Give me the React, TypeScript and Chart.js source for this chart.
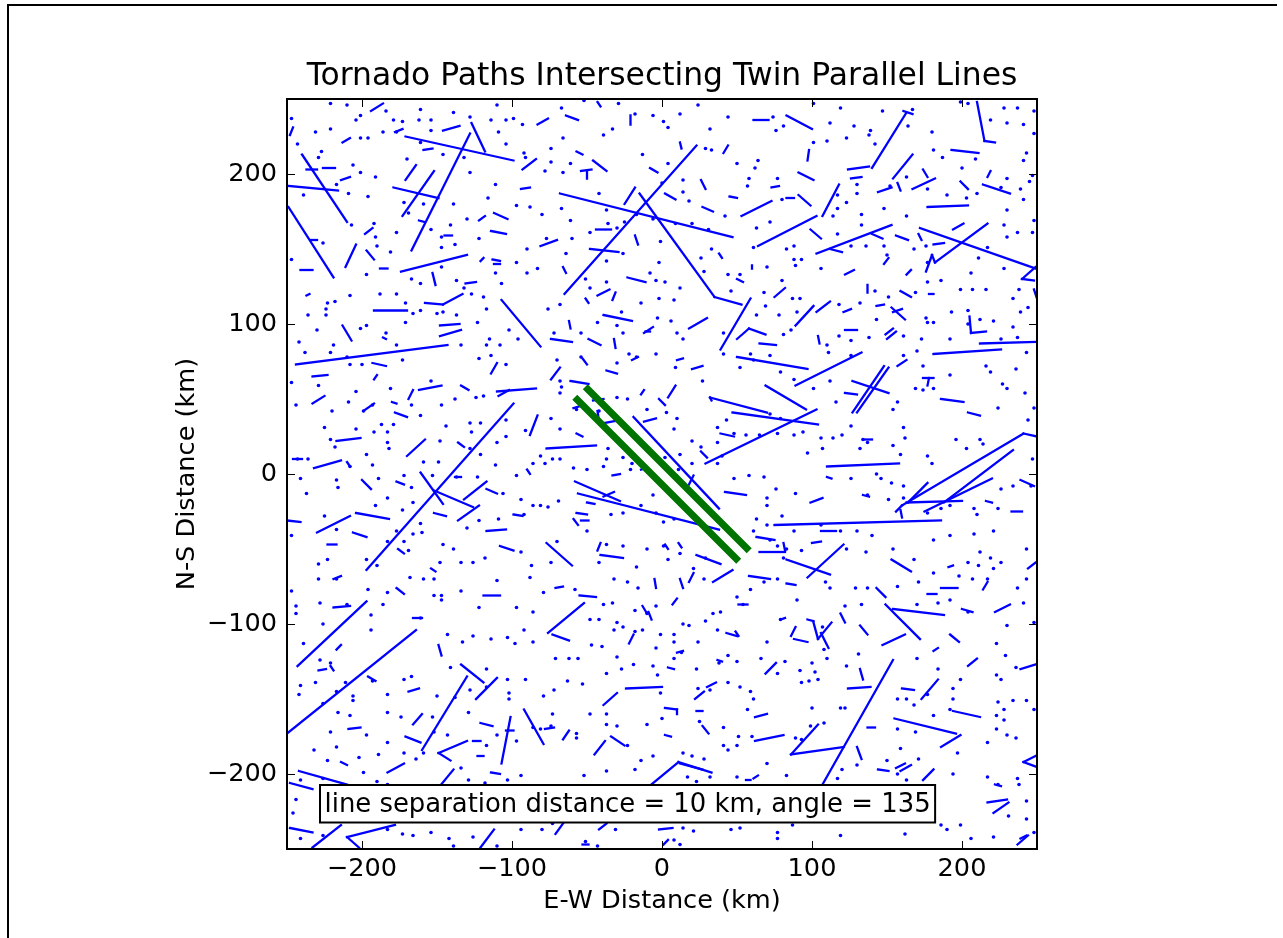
import React, { useEffect, useRef } from "react";
import { Chart, registerables } from "chart.js";
Chart.register(...registerables);

const TITLE = "Tornado Paths Intersecting Twin Parallel Lines";
const X_LABEL = "E-W Distance (km)";
const Y_LABEL = "N-S Distance (km)";
const ANNOTATION = "line separation distance = 10 km, angle = 135";
const ANNOTATION_AT = [-225, -225];
const X_TICKS = [-200, -100, 0, 100, 200];
const Y_TICKS = [-200, -100, 0, 100, 200];
const AXIS_MIN = -250;
const AXIS_MAX = 250;

// twin parallel lines [x1, y1, x2, y2] in km
const twinLines = [
  [-49.5, 56.5, 56.5, -49.5],
  [-56.5, 49.5, 49.5, -56.5],
];

// tornado path segments [x1, y1, x2, y2] in km, grouped by region
const pathsNW = [
  [-171,225,-99,209],[-128,227,-167,149],[-127,234,-118,215],[-240,213,-210,168],[-249,192,-216,189],
  [-249,178,-219,131],[-179,191,-149,184],[-152,202,-173,172],[-164,206,-171,196],[-174,135,-130,146],
  [-153,134,-151,126],[-204,153,-211,138],[-197,149,-192,143],[-192,109,-170,109],[-158,114,-146,113],
  [-146,113,-133,120],[-148,99,-135,100],[-148,92,-134,96],[-107,116,-81,85],[-213,99,-207,89],
  [-84,210,-93,203],[-146,229,-135,232],[-194,242,-186,247],[-248,226,-246,231],[-213,221,-208,224],
  [-112,174,-103,170],[-114,162,-104,160],[-122,169,-118,172],[-226,204,-218,204],[-237,203,-230,203],
  [-214,196,-208,198],[-198,160,-193,164],[-162,169,-158,168],[-145,159,-140,159],[-131,127,-124,128],
  [-113,143,-108,142],[-112,140,-108,140],[-121,142,-119,144],[-94,190,-88,191],[-241,136,-233,136],
  [-188,137,-183,137],[-234,156,-230,156],[-237,119,-235,120],[-186,91,-184,90],[-178,228,-173,230],
  [-159,216,-153,217],
];
const pathsN = [
  [23,219,-65,120],[-68,187,47,158],[-15,187,35,118],[35,118,53,113],[59,117,39,83],[-25,180,-18,191],
  [2,187,9,183],[-46,209,-37,202],[-54,202,-47,203],[-50,202,-50,197],[-81,152,-70,156],[-48,150,-29,148],
  [-44,163,-34,163],[-23,131,-11,128],[-43,119,-35,123],[-33,116,-31,121],[-39,106,-20,102],[-49,90,-41,86],
  [-74,90,-60,88],[-12,94,-6,98],[-11,95,-8,95],[18,97,30,104],[50,90,58,97],[58,97,69,93],[53,172,73,182],
  [64,152,103,172],[26,196,29,190],[27,178,34,175],[45,185,50,184],[50,130,54,128],[75,118,82,124],
  [-8,204,-3,201],[12,221,13,217],[41,214,44,219],[61,236,71,236],[-64,239,-56,236],[-83,233,-76,237],
  [-43,248,-41,245],[-21,239,-21,233],[-57,215,-53,213],[-18,159,-16,153],[73,191,78,192],[38,147,40,144],
  [60,139,60,137],[-66,138,-64,134],[-51,117,-49,114],[-62,102,-61,97],[-32,90,-31,84],[65,87,76,86],
];
const pathsNE = [
  [163,241,140,204],[167,213,154,197],[118,193,107,172],[103,147,153,166],[172,164,249,137],
  [217,167,182,141],[182,141,180,146],[180,146,176,135],[210,248,215,222],[215,222,222,221],
  [177,178,204,179],[167,190,182,197],[144,188,153,191],[214,193,232,187],[193,216,211,214],
  [83,239,100,230],[124,203,138,205],[126,197,133,198],[91,201,101,196],[91,186,99,179],
  [83,184,88,184],[98,216,97,209],[217,198,219,202],[199,195,204,190],[157,194,159,189],
  [174,203,177,198],[112,150,120,148],[140,160,147,157],[156,159,164,156],[171,160,173,156],
  [181,153,188,154],[99,163,106,157],[194,163,201,167],[122,133,128,136],[148,140,151,144],
  [163,133,166,136],[137,126,137,121],[159,122,166,118],[89,99,101,112],[103,108,112,115],
  [121,108,126,110],[143,112,148,113],[153,111,162,103],[154,108,160,110],[205,105,206,94],
  [206,94,216,95],[212,87,249,88],[122,96,130,96],[150,90,156,95],[149,93,154,97],
  [104,92,105,87],[178,120,181,120],[240,130,249,138],[240,130,248,129],[248,123,250,117],
  [161,242,167,240],
];
const pathsW = [
  [-244,73,-143,86],[-99,47,-197,-64],[-161,1,-146,-20],[-152,-11,-126,-22],[-117,-5,-132,-17],
  [-122,-21,-136,-31],[-110,55,-84,57],[-109,52,-102,56],[-162,56,-147,59],[-232,4,-214,9],
  [-217,22,-201,24],[-170,12,-158,23],[-230,-39,-208,-28],[-204,-26,-182,-30],[-206,-39,-197,-42],
  [-233,47,-225,52],[-233,65,-223,66],[-200,-4,-194,-10],[-178,41,-170,38],[-169,50,-166,56],
  [-193,74,-184,72],[-114,67,-110,74],[-134,59,-129,56],[-88,26,-83,39],[-117,-38,-104,-37],
  [-108,-48,-99,-51],[-136,21,-132,18],[-138,-2,-134,-2],[-117,-10,-110,-13],[-99,-27,-93,-28],
  [-250,-31,-241,-32],[-246,10,-240,10],[-223,-47,-217,-47],[-219,-70,-214,-68],[-177,-76,-172,-80],
  [-119,-81,-108,-81],[-210,8,-208,5],[-192,63,-190,66],[-199,42,-192,47],[-180,48,-177,47],
  [-177,-5,-172,-7],[-152,-26,-144,-28],[-176,-50,-172,-53],[-154,-63,-151,-65],[-90,3,-88,0],
];
const pathsC = [
  [-19,38,38,-23],[-58,-5,-28,-18],[-56,-13,38,-37],[-77,17,-44,19],[-77,-46,-60,-61],
  [-61,62,-49,60],[32,51,70,41],[32,51,33,49],[47,41,104,33],[29,7,103,43],[50,78,97,70],
  [69,59,96,43],[42,-12,56,-14],[23,-54,39,-60],[34,-72,47,-64],[63,-42,75,-44],[58,-68,72,-70],
  [65,-52,82,-52],[-74,63,-68,71],[-53,77,-50,73],[-37,69,-30,67],[-20,76,-16,78],[10,76,14,77],
  [20,70,27,72],[-12,35,-4,37],[-14,53,-12,56],[-2,50,2,46],[4,51,9,59],[-43,42,-42,35],
  [-38,34,-28,36],[-46,49,-39,50],[-59,44,-52,46],[-57,27,-53,25],[26,15,30,11],[39,27,48,25],
  [-57,-26,-50,-27],[-59,-30,-56,-34],[-54,-31,-49,-31],[-50,-19,-45,-20],[-39,-15,-32,-12],
  [-14,3,-10,4],[-33,-1,-28,0],[-43,-51,-41,-46],[-41,-54,-26,-56],[-71,-76,-66,-75],
  [11,-46,13,-49],[2,-47,4,-50],[-5,-70,-4,-76],[12,-70,14,-76],[18,-72,21,-66],[-55,-81,-44,-82],
  [10,-1,13,-5],[21,-1,18,-7],[81,-46,82,-51],
];
const pathsE = [
  [89,59,133,81],[148,72,127,41],[151,71,130,41],[127,62,151,54],[181,80,226,83],[186,50,201,48],
  [110,5,158,7],[75,-34,186,-31],[160,-21,241,27],[241,27,250,25],[163,-19,200,-18],[234,16,188,-19],
  [220,-3,175,-25],[177,-6,164,-19],[160,-21,156,-25],[159,-24,160,-29],[83,-57,112,-67],[97,-69,121,-47],
  [153,-57,166,-65],[99,-19,107,-16],[204,41,212,39],[157,72,163,76],[174,64,181,64],[178,64,177,59],
  [122,54,130,53],[239,-4,248,-8],[216,-18,220,-19],[233,-25,240,-25],[106,-38,116,-38],[100,-46,106,-45],
  [110,-2,113,-3],[134,-14,138,-15],[134,23,140,23],[186,-76,197,-76],[143,-76,149,-82],[177,-80,183,-80],
  [191,-62,194,-61],[83,-73,89,-74],[214,-77,217,-72],[249,-59,244,-63],
];
const pathsSW = [
  [-197,-85,-243,-128],[-164,-104,-250,-173],[-130,-135,-160,-184],[-134,-127,-119,-139],
  [-110,-136,-124,-150],[-130,-178,-149,-186],[-149,-186,-141,-191],[-101,-162,-107,-193],
  [-92,-157,-79,-180],[-171,-175,-161,-179],[-183,-199,-172,-193],[-148,-208,-139,-197],
  [-242,-198,-210,-207],[-248,-206,-233,-210],[-248,-236,-233,-239],[-233,-249,-214,-234],
  [-210,-242,-178,-234],[-210,-242,-202,-249],[-121,-249,-112,-237],[-169,-145,-162,-143],
  [-166,-167,-160,-160],[-121,-166,-113,-168],[-126,-178,-121,-178],[-114,-199,-108,-200],
  [-123,-188,-119,-188],[-209,-170,-201,-169],[-196,-135,-191,-138],[-219,-89,-208,-88],
  [-166,-96,-160,-96],[-214,-192,-210,-194],[-149,-114,-147,-121],[-104,-171,-99,-171],
  [-229,-131,-224,-130],[-217,-117,-214,-114],[-221,-128,-219,-131],
];
const pathsS = [
  [-52,-86,-76,-106],[-73,-107,-62,-111],[-24,-143,0,-142],[-39,-154,-30,-146],[-45,-187,-38,-178],
  [-34,-175,-25,-181],[-7,-207,11,-192],[11,-192,33,-199],[12,-193,27,-197],[2,-156,10,-157],
  [10,-157,10,-160],[22,-150,28,-145],[30,-142,36,-139],[43,-106,50,-108],[62,-162,70,-160],
  [62,-178,81,-174],[-22,-113,-19,-107],[-13,-88,-10,-93],[-9,-92,-7,-97],[7,-87,10,-83],
  [51,-87,57,-87],[69,-133,76,-126],[-66,-177,-62,-171],[-78,-170,-72,-169],[2,-174,6,-175],
  [23,-158,27,-158],[27,-168,31,-173],[37,-124,40,-125],[79,-97,82,-96],[49,-105,51,-108],
  [10,-119,14,-118],[4,-129,8,-130],[-2,-237,7,-236],[1,-247,4,-244],[-71,-240,-66,-233],
  [-42,-237,-37,-233],[-53,-247,-49,-247],[61,-203,64,-201],[56,-204,59,-204],
];
const pathsSE = [
  [149,-87,172,-110],[154,-90,188,-94],[154,-124,107,-207],[86,-187,121,-182],[86,-187,104,-167],
  [155,-163,196,-173],[194,-158,212,-162],[186,-182,199,-174],[173,-150,184,-137],[86,-108,89,-102],
  [88,-110,97,-112],[97,-97,101,-98],[101,-99,104,-110],[104,-110,113,-99],[106,-106,111,-116],
  [204,-128,210,-123],[222,-92,232,-87],[147,-114,162,-107],[124,-143,139,-142],[132,-130,134,-137],
  [217,-219,230,-217],[221,-226,231,-219],[132,-101,137,-107],[119,-93,122,-99],[192,-107,198,-112],
  [200,-90,207,-92],[174,-204,181,-197],[144,-197,151,-198],[156,-196,162,-193],[159,-198,166,-194],
  [160,-143,168,-144],[181,-118,184,-116],[130,-182,133,-190],[137,-169,142,-169],[239,-130,249,-127],
  [241,-192,249,-188],[241,-192,249,-195],[222,-207,226,-208],[239,-243,243,-241],[237,-247,244,-241],
];

// very short paths (dots) [x, y] in km
const dotsNW = [
  [-221,247],[-210,246],[-201,239],[-204,236],[-184,242],[-179,236],[-173,235],[-161,243],[-162,236],[-154,236],
  [-139,241],[-128,238],[-114,236],[-110,246],[-104,236],[-99,237],[-93,233],[-109,228],[-92,214],[-91,211],
  [-104,220],[-132,211],[-128,201],[-146,213],[-154,229],[-161,221],[-170,210],[-177,228],[-186,228],[-196,224],
  [-201,224],[-221,230],[-231,228],[-243,220],[-247,237],[-227,215],[-229,211],[-206,206],[-201,201],[-191,198],
  [-196,185],[-209,187],[-239,186],[-217,193],[-226,154],[-207,166],[-192,167],[-191,158],[-177,161],[-172,181],
  [-169,174],[-159,180],[-139,180],[-130,170],[-141,166],[-154,163],[-147,158],[-147,151],[-138,153],[-122,157],
  [-116,184],[-111,193],[-97,179],[-88,178],[-90,150],[-97,141],[-90,134],[-107,127],[-111,134],[-119,118],
  [-117,110],[-127,120],[-132,124],[-137,129],[-147,138],[-161,127],[-167,130],[-177,120],[-171,114],[-166,107],
  [-161,109],[-150,107],[-146,108],[-137,106],[-123,101],[-115,90],[-102,96],[-96,90],[-108,86],[-117,86],
  [-134,86],[-177,86],[-184,94],[-171,101],[-188,120],[-197,133],[-208,119],[-223,114],[-218,115],[-224,110],
  [-224,106],[-236,106],[-230,96],[-242,88],[-219,86],[-201,97],[-197,99],[-247,143],[-181,148],[-190,152],
];
const dotsN = [
  [-67,244],[-52,249],[-29,247],[-18,240],[-6,239],[1,235],[4,231],[12,240],[24,246],[32,230],[44,238],[74,238],
  [76,229],[81,232],[-33,230],[-39,226],[-66,224],[-74,217],[-74,208],[-78,202],[-66,201],[-61,207],[-42,187],
  [-37,176],[-30,164],[-13,213],[0,194],[4,207],[14,196],[14,188],[18,182],[29,217],[33,216],[50,207],[64,209],
  [62,204],[58,197],[57,192],[77,197],[80,183],[72,168],[63,164],[42,172],[31,163],[20,167],[9,167],[-6,170],
  [-17,173],[-25,168],[-36,167],[-48,161],[-60,157],[-61,169],[-67,177],[-80,173],[-77,157],[-83,137],[-64,147],
  [-51,130],[-48,124],[-37,128],[-37,142],[-26,147],[-8,134],[-4,129],[2,128],[-2,141],[-1,155],[28,135],[26,144],
  [33,150],[44,133],[46,122],[52,133],[68,121],[69,112],[80,129],[70,138],[61,151],[12,124],[8,116],[-2,117],
  [-14,114],[-27,108],[-76,110],[-68,113],[-43,101],[-30,99],[-3,104],[6,102],[10,94],[14,90],[41,94],[63,106],
  [78,106],[81,93],[-26,94],[-54,94],[-72,94],
];
const dotsNE = [
  [101,247],[119,244],[147,242],[167,243],[228,244],[237,244],[248,242],[204,247],[199,248],[112,234],[128,232],
  [139,229],[164,232],[180,228],[219,236],[230,234],[241,233],[248,227],[123,224],[110,222],[101,221],[138,226],
  [142,220],[181,216],[187,211],[209,210],[200,204],[243,214],[241,209],[230,197],[239,190],[247,199],[245,195],
  [226,191],[210,187],[203,184],[190,186],[177,190],[163,198],[152,192],[130,187],[117,186],[117,177],[130,193],
  [123,181],[133,173],[148,177],[163,172],[133,166],[114,172],[117,160],[88,152],[93,143],[88,143],[89,139],
  [83,150],[106,137],[126,152],[136,152],[148,152],[168,150],[150,146],[177,141],[186,129],[177,128],[176,152],
  [206,134],[199,123],[207,123],[216,123],[228,137],[238,123],[244,111],[239,108],[234,117],[230,158],[237,161],
  [217,151],[211,144],[228,166],[248,169],[247,161],[230,176],[241,183],[87,117],[92,117],[118,113],[142,122],
  [151,118],[132,114],[143,103],[169,121],[176,104],[181,101],[177,101],[193,108],[204,109],[204,100],[212,103],
  [221,102],[234,98],[237,91],[226,90],[192,90],[173,90],[161,92],[138,91],[126,89],[118,92],[110,86],[90,108],
  [86,96],
];
const dotsW = [
  [-238,81],[-221,81],[-210,78],[-208,73],[-200,73],[-173,76],[-122,77],[-114,79],[-104,73],[-247,61],[-229,59],
  [-204,55],[-181,57],[-154,62],[-138,50],[-124,51],[-119,52],[-244,46],[-209,48],[-199,42],[-193,46],[-167,46],
  [-161,39],[-147,46],[-220,42],[-225,31],[-204,30],[-192,28],[-183,28],[-187,33],[-179,33],[-144,32],[-128,34],
  [-127,28],[-121,34],[-104,36],[-91,29],[-221,23],[-218,18],[-197,13],[-183,21],[-182,17],[-148,22],[-128,17],
  [-121,13],[-110,21],[-104,25],[-243,10],[-236,10],[-208,5],[-193,6],[-189,-3],[-172,-1],[-167,-9],[-159,8],
  [-153,-1],[-149,8],[-123,-2],[-137,-2],[-111,6],[-97,-1],[-86,7],[-237,-13],[-241,-3],[-217,-4],[-216,-9],
  [-191,-21],[-183,-16],[-173,-24],[-166,-19],[-130,-36],[-122,-31],[-109,-30],[-106,-13],[-94,-17],[-92,-27],
  [-86,-21],[-225,-28],[-217,-37],[-177,-38],[-166,-40],[-161,-33],[-160,-39],[-146,-47],[-139,-50],[-134,-59],
  [-126,-59],[-118,-56],[-94,-52],[-87,-61],[-247,-41],[-223,-57],[-197,-57],[-183,-45],[-172,-45],[-169,-51],
  [-190,-61],[-229,-60],[-229,-70],[-217,-70],[-168,-69],[-159,-70],[-148,-59],[-152,-70],[-110,-71],[-88,-69],
  [-196,-77],[-183,-79],[-152,-81],[-147,-81],[-134,-78],[-247,-78],
];
const dotsC = [
  [-70,76],[-54,78],[-30,74],[-22,80],[-17,78],[-4,80],[9,71],[27,62],[41,80],[52,71],[59,80],[61,76],[72,79],
  [79,68],[-68,62],[-67,58],[-68,54],[-57,43],[-42,42],[-30,51],[-23,50],[-10,43],[3,41],[10,37],[20,22],[26,18],
  [37,31],[43,36],[37,21],[40,12],[48,27],[56,26],[65,26],[72,40],[77,27],[79,37],[-81,12],[-78,7],[-68,10],
  [-73,10],[-74,37],[-68,30],[-59,4],[-50,3],[-39,5],[-36,17],[-31,24],[-37,10],[-26,11],[-20,7],[-21,3],
  [-10,17],[2,11],[8,30],[12,13],[11,3],[20,7],[37,7],[48,-3],[58,-1],[68,-2],[76,-10],[70,-16],[70,-21],
  [80,-28],[63,-30],[70,-34],[61,-38],[8,-30],[1,-32],[-4,-26],[-6,-14],[-14,-21],[-26,-26],[-34,-27],[-50,-38],
  [-69,-18],[-76,-22],[-81,-21],[-70,-45],[-74,-59],[-37,-47],[-26,-48],[-42,-59],[-10,-50],[-17,-62],[1,-48],
  [4,-57],[12,-53],[29,-56],[21,-63],[28,-70],[50,-82],[59,-77],[68,-72],[77,-70],[81,-56],[77,-48],[72,-44],
  [-32,-70],[-23,-72],[-16,-76],[-58,-77],[-79,-79],
];
const dotsE = [
  [111,81],[126,79],[161,79],[170,82],[243,81],[174,72],[192,66],[216,72],[219,68],[236,70],[227,60],[230,57],
  [242,54],[248,44],[88,63],[112,62],[101,57],[116,48],[126,32],[134,23],[137,21],[162,24],[161,31],[154,43],
  [157,48],[169,57],[181,57],[174,56],[224,44],[244,36],[106,24],[114,24],[120,26],[94,28],[88,26],[107,17],
  [97,14],[132,17],[154,19],[159,13],[196,23],[212,23],[214,20],[203,17],[177,12],[180,7],[143,0],[146,-3],
  [153,-6],[161,-8],[89,-13],[126,-3],[137,-14],[151,-17],[161,-16],[177,-26],[186,-23],[192,-21],[208,-23],
  [210,-27],[226,-10],[234,-8],[247,10],[246,-8],[224,-23],[208,-40],[221,-38],[212,-52],[219,-56],[192,-41],
  [181,-44],[168,-57],[154,-50],[136,-52],[140,-41],[130,-38],[123,-50],[119,-38],[106,-34],[88,-38],[83,-50],
  [93,-51],[109,-72],[112,-76],[129,-76],[137,-76],[157,-75],[171,-72],[181,-66],[198,-68],[207,-70],[217,-70],
  [237,-76],[243,-70],[204,-59],[211,-61],[221,-63],[226,-59],[243,-50],
];
const dotsSW = [
  [-244,-88],[-228,-86],[-244,-93],[-210,-87],[-186,-87],[-147,-84],[-122,-89],[-97,-89],[-86,-92],[-194,-94],
  [-161,-96],[-226,-100],[-194,-104],[-239,-113],[-228,-124],[-221,-126],[-241,-141],[-231,-139],[-217,-145],
  [-211,-139],[-206,-148],[-226,-153],[-242,-147],[-193,-138],[-183,-147],[-172,-137],[-167,-135],[-143,-107],
  [-133,-112],[-126,-108],[-114,-110],[-103,-109],[-92,-104],[-98,-113],[-86,-112],[-141,-129],[-117,-130],
  [-117,-142],[-103,-137],[-91,-137],[-102,-146],[-102,-150],[-128,-144],[-138,-149],[-150,-148],[-153,-162],
  [-129,-159],[-152,-172],[-143,-174],[-117,-181],[-110,-174],[-97,-178],[-86,-169],[-183,-159],[-174,-162],
  [-216,-159],[-208,-161],[-206,-151],[-221,-172],[-197,-174],[-232,-184],[-223,-191],[-217,-182],[-202,-189],
  [-189,-187],[-183,-179],[-172,-186],[-164,-190],[-159,-186],[-129,-204],[-118,-206],[-103,-204],[-94,-201],
  [-241,-204],[-226,-203],[-199,-199],[-190,-205],[-183,-207],[-134,-196],[-244,-217],[-246,-226],[-241,-243],
  [-226,-241],[-183,-237],[-173,-240],[-166,-241],[-154,-239],[-142,-243],[-139,-248],[-126,-242],[-110,-248],
  [-94,-237],
];
const dotsS = [
  [-39,-87],[-33,-86],[-18,-91],[-10,-93],[-4,-88],[14,-100],[18,-101],[29,-98],[34,-93],[39,-92],[37,-104],
  [54,-87],[70,-112],[79,-97],[-48,-97],[-42,-97],[-30,-99],[-26,-102],[-32,-104],[-18,-105],[-13,-104],[-1,-107],
  [8,-107],[8,-112],[24,-112],[-47,-114],[-40,-115],[-71,-123],[-62,-123],[-56,-123],[-30,-122],[-19,-127],
  [-4,-116],[-6,-128],[8,-123],[13,-119],[23,-130],[38,-126],[44,-121],[50,-125],[66,-123],[77,-133],[82,-125],
  [-63,-138],[-53,-140],[-37,-133],[-27,-130],[-3,-134],[-1,-146],[24,-143],[32,-144],[44,-139],[52,-142],
  [59,-145],[61,-150],[57,-157],[-79,-148],[-72,-144],[-73,-160],[-48,-160],[-37,-160],[-10,-167],[0,-163],
  [25,-165],[41,-169],[51,-175],[60,-175],[-81,-170],[-74,-168],[-57,-173],[-57,-176],[-37,-167],[-30,-168],
  [-23,-181],[-6,-188],[-14,-191],[14,-186],[20,-188],[28,-190],[41,-181],[44,-184],[50,-181],[70,-193],
  [83,-201],[-52,-201],[-37,-198],[-18,-197],[17,-202],[23,-205],[32,-202],[50,-202],[14,-236],[21,-238],
  [46,-237],[52,-236],[77,-239],[77,-243],[-73,-233],[-80,-237],[-51,-245],[-43,-248],[-31,-237],[8,-244],
  [12,-247],
];
const dotsSE = [
  [90,-84],[122,-88],[133,-87],[170,-87],[184,-86],[192,-84],[204,-92],[230,-101],[241,-86],[248,-99],[107,-102],
  [110,-123],[100,-126],[102,-132],[93,-139],[98,-138],[104,-137],[92,-131],[108,-117],[119,-156],[122,-156],
  [100,-156],[123,-128],[131,-120],[170,-123],[184,-130],[199,-137],[223,-113],[229,-121],[236,-129],[223,-134],
  [226,-137],[243,-151],[234,-151],[224,-152],[228,-157],[223,-161],[228,-164],[223,-170],[230,-174],[236,-176],
  [248,-157],[217,-179],[197,-186],[194,-150],[192,-157],[181,-161],[169,-172],[157,-170],[157,-150],[163,-150],
  [168,-154],[194,-143],[177,-147],[89,-176],[93,-177],[99,-168],[108,-166],[120,-197],[117,-203],[130,-194],
  [150,-191],[157,-200],[163,-204],[171,-190],[159,-183],[194,-200],[237,-203],[238,-207],[224,-207],[217,-202],
  [243,-218],[231,-228],[243,-230],[248,-239],[186,-234],[190,-237],[199,-234],[206,-243],[221,-242],[162,-240],
  [119,-241],[87,-234],
];

const BLUE = "#0000ff";
const GREEN = "#007400";
const FONT = '"DejaVu Sans", "Liberation Sans", sans-serif';

const pathGroups = [pathsNW, pathsN, pathsNE, pathsW, pathsC, pathsE, pathsSW, pathsS, pathsSE];
const dotGroups = [dotsNW, dotsN, dotsNE, dotsW, dotsC, dotsE, dotsSW, dotsS, dotsSE];

const fmtTick = (v: number) => (v < 0 ? "\u2212" + Math.abs(v) : String(v));

const framePlugin = {
  id: "mplFrame",
  afterDatasetsDraw(chart: any) {
    const { ctx, chartArea, scales } = chart;
    const { left, right, top, bottom } = chartArea;
    const xs = scales.x;
    const ys = scales.y;
    ctx.save();
    // annotation box
    ctx.font = `25.9px ${FONT}`;
    const ax = xs.getPixelForValue(ANNOTATION_AT[0]);
    const ay = ys.getPixelForValue(ANNOTATION_AT[1]);
    const w = ctx.measureText(ANNOTATION).width;
    const bx = ax - 4.5;
    const by = ay - 26.5;
    const bw = w + 9;
    const bh = 37.5;
    ctx.fillStyle = "#ffffff";
    ctx.fillRect(bx, by, bw, bh);
    ctx.strokeStyle = "#000000";
    ctx.lineWidth = 2;
    ctx.strokeRect(bx, by, bw, bh);
    ctx.fillStyle = "#000000";
    ctx.textAlign = "left";
    ctx.textBaseline = "alphabetic";
    ctx.fillText(ANNOTATION, ax, ay);
    // inward ticks
    ctx.lineWidth = 1;
    ctx.strokeStyle = "#000000";
    const tl = 8;
    ctx.beginPath();
    for (const v of X_TICKS) {
      const p = Math.round(xs.getPixelForValue(v)) + 0.5;
      ctx.moveTo(p, bottom);
      ctx.lineTo(p, bottom - tl);
      ctx.moveTo(p, top);
      ctx.lineTo(p, top + tl);
    }
    for (const v of Y_TICKS) {
      const p = Math.round(ys.getPixelForValue(v)) + 0.5;
      ctx.moveTo(left, p);
      ctx.lineTo(left + tl, p);
      ctx.moveTo(right, p);
      ctx.lineTo(right - tl, p);
    }
    ctx.stroke();
    // spines
    ctx.lineWidth = 2;
    ctx.strokeRect(left, top, right - left, bottom - top);
    ctx.restore();
  },
};

export default function App() {
  const ref = useRef<HTMLCanvasElement | null>(null);
  useEffect(() => {
    if (!ref.current) return;
    const datasets: any[] = [];
    twinLines.forEach((s) => {
      datasets.push({
        data: [{ x: s[0], y: s[1] }, { x: s[2], y: s[3] }],
        showLine: true,
        borderColor: GREEN,
        borderWidth: 7,
        borderCapStyle: "square",
        pointRadius: 0,
        order: 0,
      });
    });
    pathGroups.forEach((g) =>
      g.forEach((s) => {
        datasets.push({
          data: [{ x: s[0], y: s[1] }, { x: s[2], y: s[3] }],
          showLine: true,
          borderColor: BLUE,
          borderWidth: 2.3,
          borderCapStyle: "square",
          pointRadius: 0,
          order: 1,
        });
      })
    );
    dotGroups.forEach((g) => {
      datasets.push({
        data: g.map((p) => ({ x: p[0], y: p[1] })),
        showLine: false,
        pointRadius: 1.8,
        pointBorderWidth: 0,
        pointBackgroundColor: BLUE,
        backgroundColor: BLUE,
        borderColor: BLUE,
        order: 2,
      });
    });

    const tickFont = { family: FONT, size: 25.6 };
    const chart = new Chart(ref.current, {
      type: "scatter",
      data: { datasets },
      plugins: [framePlugin],
      options: {
        responsive: false,
        animation: false,
        events: [],
        layout: { padding: { left: 0, right: 246, top: 0, bottom: 0 } },
        plugins: {
          legend: { display: false },
          tooltip: { enabled: false },
          title: {
            display: true,
            text: TITLE,
            fullSize: false,
            color: "#000000",
            font: { family: FONT, size: 31.4, weight: "normal" },
            padding: { top: 57.6, bottom: 3.72 },
          },
        },
        scales: {
          x: {
            type: "linear",
            position: "bottom",
            min: AXIS_MIN,
            max: AXIS_MAX,
            afterBuildTicks: (s: any) => {
              s.ticks = X_TICKS.map((v) => ({ value: v }));
            },
            afterFit: (s: any) => {
              s.height = 89;
            },
            grid: { display: false, drawTicks: false },
            border: { display: false },
            ticks: {
              padding: 5.4,
              color: "#000000",
              font: tickFont,
              maxRotation: 0,
              autoSkip: false,
              callback: (v: any) => fmtTick(Number(v)),
            },
            title: {
              display: true,
              text: X_LABEL,
              color: "#000000",
              font: tickFont,
              padding: { top: 0, bottom: 21.5 },
            },
          },
          y: {
            type: "linear",
            position: "left",
            min: AXIS_MIN,
            max: AXIS_MAX,
            afterBuildTicks: (s: any) => {
              s.ticks = Y_TICKS.map((v) => ({ value: v }));
            },
            afterFit: (s: any) => {
              s.width = 287;
            },
            grid: { display: false, drawTicks: false },
            border: { display: false },
            ticks: {
              padding: 10,
              color: "#000000",
              font: tickFont,
              autoSkip: false,
              callback: (v: any) => fmtTick(Number(v)),
            },
            title: {
              display: true,
              text: Y_LABEL,
              color: "#000000",
              font: tickFont,
              padding: { top: 171.8, bottom: 0 },
            },
          },
        },
      } as any,
    });
    return () => chart.destroy();
  }, []);

  return (
    <div style={{ position: "absolute", left: 0, top: 0, width: 1283, height: 938, background: "#ffffff", overflow: "hidden" }}>
      <canvas ref={ref} width={1283} height={938} style={{ position: "absolute", left: 0, top: 0 }} />
      <div style={{ position: "absolute", left: 7, top: 4, width: 1270, height: 2, background: "#000000" }} />
      <div style={{ position: "absolute", left: 7, top: 4, width: 2, height: 934, background: "#000000" }} />
    </div>
  );
}
